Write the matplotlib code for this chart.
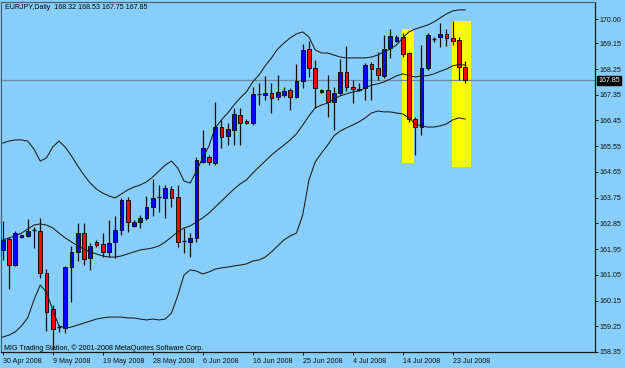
import matplotlib
matplotlib.use('Agg')
import matplotlib.pyplot as plt
from matplotlib.patches import Rectangle
import matplotlib.transforms as mtransforms

# ---------------- data ----------------
opens = [161.92, 162.30, 161.39, 162.37, 162.41, 162.62, 162.58, 161.11, 159.85, 159.24,
         159.19, 161.32, 161.85, 162.51, 161.64, 162.20, 162.13, 161.85, 162.20, 162.62,
         163.67, 162.76, 162.90, 163.04, 163.42, 163.76, 163.74, 164.05, 163.77, 162.23,
         162.20, 162.34, 165.00, 165.17, 164.96, 166.22, 165.91, 166.12, 166.64, 166.43,
         166.36, 167.38, 167.34, 167.41, 167.27, 167.34, 167.52, 167.27, 167.83, 168.95,
         168.29, 167.45, 167.52, 167.10, 167.41, 168.15, 167.62, 167.52, 167.59, 168.43,
         168.29, 168.01, 168.99, 169.23, 169.37, 168.81, 166.50, 166.22, 168.29, 169.30,
         169.37, 169.48, 169.34, 169.27, 168.32]
highs = [162.93, 162.37, 162.58, 162.48, 163.00, 162.72, 163.04, 161.25, 159.99, 159.29,
         161.36, 162.06, 162.86, 162.86, 162.16, 162.27, 162.51, 162.97, 163.11, 163.74,
         163.77, 162.97, 163.14, 163.81, 164.40, 164.19, 164.19, 164.16, 164.19, 162.69,
         162.51, 165.17, 166.12, 165.24, 167.10, 166.47, 166.36, 166.89, 166.89, 166.50,
         167.62, 167.76, 168.01, 167.76, 168.04, 167.62, 167.59, 168.43, 169.13, 169.23,
         168.57, 167.55, 168.04, 167.62, 168.60, 169.06, 167.87, 167.76, 168.46, 168.50,
         168.85, 169.44, 169.65, 169.44, 169.51, 168.85, 166.57, 169.09, 169.51, 169.37,
         169.86, 169.65, 169.93, 169.37, 168.53]
lows = [161.57, 160.55, 161.36, 162.34, 162.37, 161.99, 160.94, 159.08, 158.42, 159.05,
        159.01, 160.10, 161.53, 161.39, 161.22, 162.02, 161.67, 161.67, 161.64, 162.44,
        162.55, 162.72, 162.69, 162.97, 163.11, 163.25, 163.04, 163.42, 162.02, 161.81,
        161.67, 162.20, 164.96, 164.89, 164.89, 165.49, 165.59, 165.59, 165.59, 166.33,
        166.29, 166.99, 167.17, 166.71, 167.17, 167.27, 166.82, 167.24, 167.59, 167.97,
        166.89, 167.41, 166.57, 166.12, 167.34, 167.48, 167.06, 167.48, 167.17, 167.17,
        167.87, 167.94, 168.64, 169.20, 168.67, 166.40, 165.24, 165.94, 168.22, 169.20,
        169.02, 169.06, 169.09, 167.87, 167.75]
closes = [162.27, 161.39, 162.51, 162.44, 162.58, 162.60, 161.11, 159.75, 159.15, 159.22,
          161.32, 161.85, 162.51, 161.60, 162.06, 162.09, 161.85, 162.16, 162.62, 163.67,
          162.90, 162.90, 163.04, 163.42, 163.74, 163.77, 164.09, 163.74, 162.20, 162.24,
          162.34, 165.07, 165.49, 165.00, 166.22, 165.87, 166.15, 166.68, 166.36, 166.36,
          167.38, 167.39, 167.41, 167.24, 167.45, 167.48, 167.27, 167.83, 168.92, 168.29,
          167.59, 167.52, 167.10, 167.41, 168.15, 167.62, 167.55, 167.55, 168.39, 168.25,
          168.04, 168.95, 169.41, 169.37, 168.78, 166.50, 166.22, 168.29, 169.44, 169.31,
          169.48, 169.34, 169.23, 168.32, 167.85]

bb_upper = [165.66, 165.73, 165.77, 165.77, 165.73, 165.45, 165.03, 165.14, 165.52, 165.73,
            165.52, 165.21, 164.86, 164.54, 164.26, 164.05, 163.91, 163.81, 163.74, 163.88,
            164.02, 164.12, 164.19, 164.30, 164.47, 164.68, 164.89, 165.03, 164.79, 164.33,
            164.26, 164.68, 165.14, 165.56, 166.19, 166.47, 166.71, 166.99, 167.24, 167.45,
            167.80, 168.04, 168.36, 168.64, 168.95, 169.16, 169.34, 169.48, 169.55, 169.37,
            168.92, 168.81, 168.81, 168.74, 168.67, 168.64, 168.64, 168.64, 168.64, 168.67,
            168.74, 168.85, 168.95, 169.09, 169.34, 169.55, 169.65, 169.72, 169.79, 169.90,
            170.04, 170.18, 170.28, 170.32, 170.32]
bb_middle = [162.27, 162.34, 162.41, 162.51, 162.65, 162.79, 162.83, 162.79, 162.69, 162.51,
             162.34, 162.20, 162.06, 161.95, 161.85, 161.78, 161.71, 161.67, 161.67, 161.71,
             161.78, 161.85, 161.92, 161.95, 161.99, 162.06, 162.20, 162.37, 162.55, 162.69,
             162.76, 162.90, 163.04, 163.21, 163.42, 163.63, 163.84, 164.05, 164.23, 164.37,
             164.61, 164.82, 165.03, 165.24, 165.42, 165.59, 165.77, 165.98, 166.29, 166.61,
             166.89, 166.99, 167.06, 167.20, 167.31, 167.38, 167.45, 167.48, 167.59, 167.69,
             167.73, 167.80, 167.90, 168.01, 168.08, 168.02, 167.97, 168.01, 168.02, 168.08,
             168.17, 168.25, 168.36, 168.41, 168.39]
bb_lower = [158.87, 158.94, 159.05, 159.26, 159.54, 160.17, 160.69, 160.45, 159.82, 159.26,
            159.19, 159.22, 159.29, 159.36, 159.43, 159.50, 159.54, 159.57, 159.57, 159.57,
            159.54, 159.54, 159.50, 159.47, 159.50, 159.47, 159.50, 159.71, 160.31, 161.04,
            161.22, 161.18, 161.08, 161.15, 161.25, 161.29, 161.32, 161.36, 161.39, 161.43,
            161.53, 161.57, 161.67, 161.85, 162.06, 162.27, 162.41, 162.51, 163.14, 164.37,
            165.00, 165.31, 165.59, 165.91, 166.08, 166.19, 166.29, 166.40, 166.54, 166.71,
            166.78, 166.75, 166.75, 166.71, 166.68, 166.54, 166.33, 166.26, 166.22, 166.22,
            166.26, 166.33, 166.47, 166.54, 166.50]

price_ticks = [170.00, 169.15, 168.25, 167.35, 166.45, 165.55, 164.65, 163.75,
               162.85, 161.95, 161.05, 160.15, 159.25, 158.35]
date_tick_bars = [0, 8, 16, 24, 32, 40, 48, 56, 64, 72]
date_labels = ['30 Apr 2008', '9 May 2008', '19 May 2008', '28 May 2008', '6 Jun 2008',
               '16 Jun 2008', '25 Jun 2008', '4 Jul 2008', '14 Jul 2008', '23 Jul 2008']
bid_price = 167.85
title_text = 'EURJPY,Daily  168.32 168.53 167.75 167.85'
footer_text = 'MIG Trading Station, \u00a9 2001-2008 MetaQuotes Software Corp.'
# highlight boxes: (first bar, last bar, low price, high price)
highlights = [(63.85, 65.85, 164.95, 169.64), (71.85, 74.95, 164.83, 169.93)]

# ---------------- style ----------------
BG = '#87CEFA'
FONT = 'Liberation Sans'
FS = 5.1
W, H = 625, 368

fig = plt.figure(figsize=(W / 100, H / 100), dpi=100, facecolor=BG)
ax_l, ax_r, ax_t, ax_b = 1.5, 595.0, 1.5, 352.0
ax = fig.add_axes([ax_l / W, (H - ax_b) / H, (ax_r - ax_l) / W, (ax_b - ax_t) / H])
ax.set_facecolor(BG)

px_per_bar = 6.25
x0_px = 2.7
ax.set_xlim((ax_l - x0_px) / px_per_bar, (ax_r - x0_px) / px_per_bar)
ax.set_ylim(158.348, 170.613)

# highlight rectangles
for b0, b1, p0, p1 in highlights:
    ax.add_patch(Rectangle((b0, p0), b1 - b0, p1 - p0, facecolor='#FFFF00',
                           edgecolor='none', zorder=0.5))

# bid line
ax.axhline(bid_price, color='#6d8a9e', lw=0.9, zorder=1)

# candles
n = len(opens)
idx = list(range(n))
body_w = 0.62
for i in idx:
    o, h, l, c = opens[i], highs[i], lows[i], closes[i]
    ax.vlines(i, l, h, color='#111111', lw=0.9, zorder=2)
    up = c >= o
    col = '#0000FF' if up else '#FF0000'
    bot = min(o, c)
    hgt = abs(c - o)
    if hgt < 0.03:
        ax.hlines((o + c) / 2, i - body_w / 2, i + body_w / 2, color='#111111', lw=1.0, zorder=3)
    else:
        ax.add_patch(Rectangle((i - body_w / 2, bot), body_w, hgt, facecolor=col,
                               edgecolor='#111111', lw=0.7, zorder=3))

# Bollinger bands
for band in (bb_upper, bb_middle, bb_lower):
    ax.plot(idx, band, color='#1a1a1a', lw=0.75, zorder=4)

# spines
for s in ('left', 'top'):
    ax.spines[s].set_color('#4a5a66')
    ax.spines[s].set_linewidth(0.8)
for s in ('right', 'bottom'):
    ax.spines[s].set_color('#1a1a1a')
    ax.spines[s].set_linewidth(0.9)

# y axis on right
ax.yaxis.tick_right()
ax.set_yticks(price_ticks)
ax.set_yticklabels(['%.2f' % p for p in price_ticks], fontsize=FS, family=FONT)
ax.tick_params(axis='y', which='both', length=2.2, width=0.7, pad=1.2, colors='#111111')

# x axis
ax.set_xticks(date_tick_bars)
ax.set_xticklabels(date_labels, fontsize=FS, family=FONT)
for lab in ax.get_xticklabels():
    lab.set_horizontalalignment('left')
ax.tick_params(axis='x', which='both', length=2.2, width=0.7, pad=2.2, colors='#111111')

# bid price label box
trans = mtransforms.blended_transform_factory(ax.transAxes, ax.transData)
ax.text(1.0 + 3.5 / (ax_r - ax_l), bid_price, '%.2f' % bid_price, transform=trans,
        ha='left', va='center', color='white', fontsize=FS, family=FONT,
        bbox=dict(boxstyle='square,pad=0.15', facecolor='black', edgecolor='black'),
        clip_on=False, zorder=10)

# title & footer
fig.text(5 / W, 1 - 7.5 / H, title_text, ha='left', va='center', fontsize=FS, family=FONT,
         color='black')
fig.text(4 / W, 1 - 348.5 / H, footer_text, ha='left', va='center', fontsize=FS,
         family=FONT, color='black')

fig.savefig('out.png', dpi=100, facecolor=BG)
